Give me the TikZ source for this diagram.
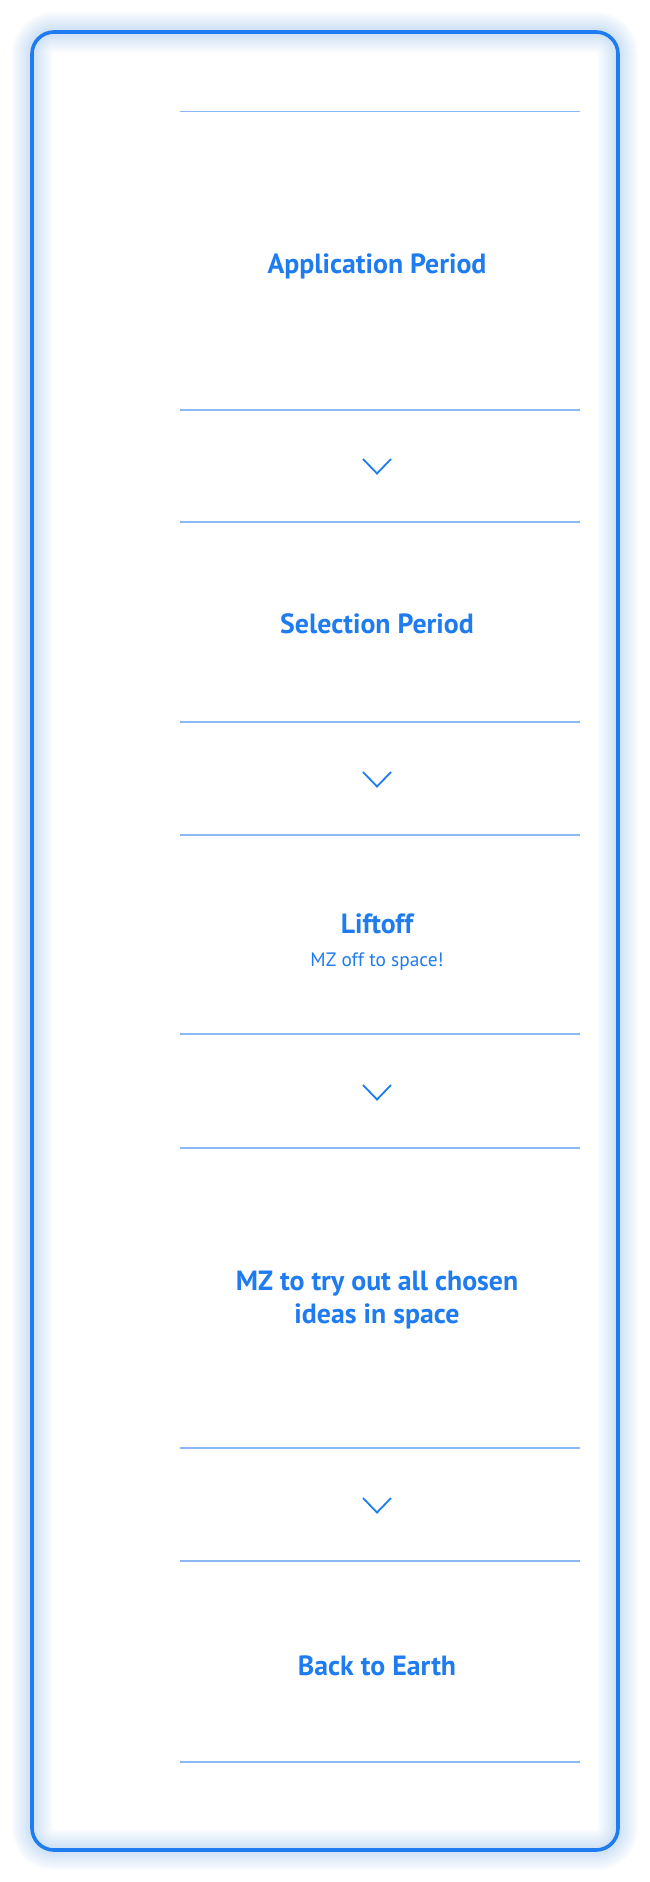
\documentclass[tikz,border=0pt]{standalone}
\usepackage{fontspec}
\setmainfont{PT Sans}
\definecolor{mzblue}{HTML}{1E7BF0}
\definecolor{mzline}{HTML}{8CB9F5}
\definecolor{mzglow}{HTML}{5C9EF2}
\tikzset{
  stagetitle/.style={text=mzblue, font=\bfseries\fontsize{27.8}{32.5}\selectfont, align=center, inner sep=0pt},
  stagesub/.style={text=mzblue, font=\fontsize{19.4}{23}\selectfont, align=center, inner sep=0pt},
  sepline/.style={draw=mzline, line width=1.1pt},
  chevron/.style={draw=mzblue, line width=1.8pt, line join=miter},
}
\begin{document}
\begin{tikzpicture}[x=1pt,y=-1pt]
\useasboundingbox (0,0) rectangle (650,1882);
\fill[white] (0,0) rectangle (650,1882);
% glow around the frame
\foreach \w in {40,36,32,28,24,20,16,12,8} {
  \draw[mzglow, opacity=0.03, line width=\w pt, rounded corners=22pt] (32,32) rectangle (618,1850);
}
% frame
\draw[mzblue, line width=3.6pt, rounded corners=22pt] (32,32) rectangle (618,1850);

% separator lines
\foreach \y in {111.5,410,522,722,835,1034,1148,1448,1561,1762} {
  \draw[sepline] (180,\y) -- (580,\y);
}

% stages
\node[stagetitle] (app) at (377,266) {Application Period};
\node[stagetitle] (sel) at (377,624) {Selection Period};
\node[stagetitle] (lift) at (377,924) {Liftoff};
\node[stagesub] (liftsub) at (377,962) {MZ off to space!};
\node[stagetitle] (try) at (377,1300) {MZ to try out all chosen\\ideas in space};
\node[stagetitle] (back) at (377,1666) {Back to Earth};

% chevrons
\coordinate (c1) at (377,466);
\coordinate (c2) at (377,779);
\coordinate (c3) at (377,1092);
\coordinate (c4) at (377,1505);
\foreach \c in {c1,c2,c3,c4} {
  \draw[chevron] ([xshift=-14pt,yshift=7pt]\c) -- ([yshift=-7.5pt]\c) -- ([xshift=14pt,yshift=7pt]\c);
}
\end{tikzpicture}
\end{document}
